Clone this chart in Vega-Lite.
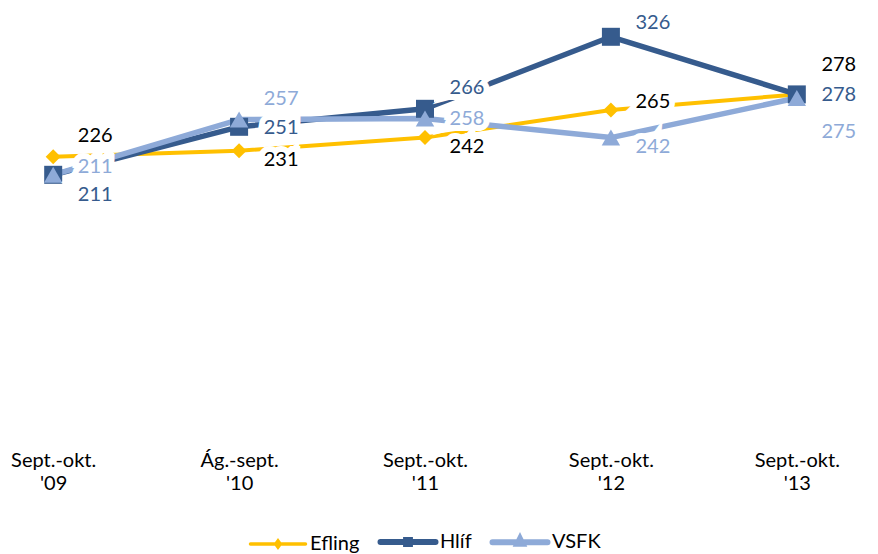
{
  "$schema": "https://vega.github.io/schema/vega-lite/v6.json",
  "width": 818,
  "height": 420,
  "autosize": {"type": "none"},
  "padding": {"left": 16, "top": 8, "right": 44, "bottom": 126},
  "background": "white",
  "config": {"view": {"stroke": null}, "font": "Lato"},
  "data": {
    "values": [
      {"series": "Efling", "period": "Sept.-okt. '09", "value": 226},
      {"series": "Efling", "period": "Ág.-sept. '10", "value": 231},
      {"series": "Efling", "period": "Sept.-okt. '11", "value": 242},
      {"series": "Efling", "period": "Sept.-okt. '12", "value": 265},
      {"series": "Efling", "period": "Sept.-okt. '13", "value": 278},
      {"series": "Hlíf", "period": "Sept.-okt. '09", "value": 211},
      {"series": "Hlíf", "period": "Ág.-sept. '10", "value": 251},
      {"series": "Hlíf", "period": "Sept.-okt. '11", "value": 266},
      {"series": "Hlíf", "period": "Sept.-okt. '12", "value": 326},
      {"series": "Hlíf", "period": "Sept.-okt. '13", "value": 278},
      {"series": "VSFK", "period": "Sept.-okt. '09", "value": 211},
      {"series": "VSFK", "period": "Ág.-sept. '10", "value": 257},
      {"series": "VSFK", "period": "Sept.-okt. '11", "value": 258},
      {"series": "VSFK", "period": "Sept.-okt. '12", "value": 242},
      {"series": "VSFK", "period": "Sept.-okt. '13", "value": 275}
    ]
  },
  "encoding": {
    "x": {
      "field": "period",
      "type": "ordinal",
      "sort": ["Sept.-okt. '09", "Ág.-sept. '10", "Sept.-okt. '11", "Sept.-okt. '12", "Sept.-okt. '13"],
      "scale": {"type": "point", "padding": 0.2},
      "axis": {
        "title": null,
        "domain": false,
        "ticks": false,
        "grid": false,
        "labelAngle": 0,
        "labelFont": "Lato",
        "labelFontSize": 20,
        "labelColor": "#000000",
        "labelPadding": 22,
        "labelLineHeight": 23,
        "labelExpr": "split(datum.label, ' ')"
      }
    },
    "y": {"field": "value", "type": "quantitative", "scale": {"domain": [0, 350]}, "axis": null},
    "color": {
      "field": "series", "type": "nominal",
      "scale": {"domain": ["Efling", "Hlíf", "VSFK"], "range": ["#FFC000", "#365B8D", "#8EAAD8"]},
      "legend": {
        "orient": "none", "legendX": 252, "legendY": 524, "direction": "horizontal", "title": null,
        "labelFont": "Lato", "labelFontSize": 20, "labelColor": "#000000",
        "symbolSize": 3025, "labelOffset": 22, "columnPadding": 8,
        "encode": {
          "symbols": {
            "update": {
              "shape": {"signal": "datum.value === 'Efling' ? 'M-1,0H1M0,-0.11L0.08,0L0,0.11L-0.08,0Z' : datum.value === 'Hlíf' ? 'M-1,0H1M-0.07,-0.07H0.07V0.07H-0.07Z' : 'M-1,0H1M0,-0.13L0.09,0.05H-0.09Z'"},
              "strokeWidth": {"signal": "datum.value === 'Efling' ? 3.5 : 6"},
              "strokeCap": {"value": "round"},
              "strokeJoin": {"value": "miter"},
              "fill": {"signal": "scale('color', datum.value)"},
              "stroke": {"signal": "scale('color', datum.value)"},
              "size": {"value": 3025},
              "opacity": {"value": 1},
              "fillOpacity": {"value": 1},
              "strokeOpacity": {"value": 1}
            }
          }
        }
      }
    }
  },
  "layer": [
    {"transform": [{"filter": "datum.series === 'Efling'"}], "mark": {"type": "line", "strokeWidth": 4, "strokeJoin": "round"}},
    {"transform": [{"filter": "datum.series === 'Hlíf'"}], "mark": {"type": "line", "strokeWidth": 5.5, "strokeJoin": "round"}},
    {"transform": [{"filter": "datum.series === 'VSFK'"}], "mark": {"type": "line", "strokeWidth": 5.5, "strokeJoin": "round"}},
    {"transform": [{"filter": "datum.series === 'Efling'"}], "mark": {"type": "point", "filled": true, "opacity": 1, "shape": "diamond", "size": 225}},
    {"transform": [{"filter": "datum.series === 'Hlíf'"}], "mark": {"type": "point", "filled": true, "opacity": 1, "shape": "square", "size": 324}},
    {"transform": [{"filter": "datum.series === 'VSFK'"}], "mark": {"type": "point", "filled": true, "opacity": 1, "shape": "triangle-up", "size": 340}},

    {"transform": [{"filter": "datum.series === 'Efling' && datum.period === \"Sept.-okt. '13\""}],
     "mark": {"type": "text", "dx": 42, "dy": -29, "fontSize": 20, "font": "Lato", "fill": "white", "stroke": "white", "strokeWidth": 12, "strokeJoin": "miter"},
     "encoding": {"text": {"field": "value"}, "color": {"value": "white"}}},
    {"transform": [{"filter": "(datum.series === 'Efling' && datum.period === \"Sept.-okt. '09\") || (datum.series === 'Hlíf' && datum.period === \"Sept.-okt. '11\") || (datum.series === 'VSFK' && datum.period === \"Ág.-sept. '10\")"}],
     "mark": {"type": "text", "dx": 42, "dy": -21, "fontSize": 20, "font": "Lato", "fill": "white", "stroke": "white", "strokeWidth": 12, "strokeJoin": "miter"},
     "encoding": {"text": {"field": "value"}, "color": {"value": "white"}}},
    {"transform": [{"filter": "datum.series === 'Hlíf' && datum.period === \"Sept.-okt. '12\""}],
     "mark": {"type": "text", "dx": 42, "dy": -14, "fontSize": 20, "font": "Lato", "fill": "white", "stroke": "white", "strokeWidth": 12, "strokeJoin": "miter"},
     "encoding": {"text": {"field": "value"}, "color": {"value": "white"}}},
    {"transform": [{"filter": "(datum.series === 'VSFK' && datum.period === \"Sept.-okt. '09\") || (datum.series === 'Efling' && datum.period === \"Sept.-okt. '12\")"}],
     "mark": {"type": "text", "dx": 42, "dy": -8, "fontSize": 20, "font": "Lato", "fill": "white", "stroke": "white", "strokeWidth": 12, "strokeJoin": "miter"},
     "encoding": {"text": {"field": "value"}, "color": {"value": "white"}}},
    {"transform": [{"filter": "(datum.series === 'Hlíf' && datum.period === \"Ág.-sept. '10\") || (datum.series === 'VSFK' && datum.period === \"Sept.-okt. '11\") || (datum.series === 'Hlíf' && datum.period === \"Sept.-okt. '13\")"}],
     "mark": {"type": "text", "dx": 42, "dy": 1, "fontSize": 20, "font": "Lato", "fill": "white", "stroke": "white", "strokeWidth": 12, "strokeJoin": "miter"},
     "encoding": {"text": {"field": "value"}, "color": {"value": "white"}}},
    {"transform": [{"filter": "(datum.series === 'Efling' && datum.period === \"Ág.-sept. '10\") || (datum.series === 'Efling' && datum.period === \"Sept.-okt. '11\") || (datum.series === 'VSFK' && datum.period === \"Sept.-okt. '12\")"}],
     "mark": {"type": "text", "dx": 42, "dy": 9, "fontSize": 20, "font": "Lato", "fill": "white", "stroke": "white", "strokeWidth": 12, "strokeJoin": "miter"},
     "encoding": {"text": {"field": "value"}, "color": {"value": "white"}}},
    {"transform": [{"filter": "datum.series === 'Hlíf' && datum.period === \"Sept.-okt. '09\""}],
     "mark": {"type": "text", "dx": 42, "dy": 20, "fontSize": 20, "font": "Lato", "fill": "white", "stroke": "white", "strokeWidth": 12, "strokeJoin": "miter"},
     "encoding": {"text": {"field": "value"}, "color": {"value": "white"}}},
    {"transform": [{"filter": "datum.series === 'VSFK' && datum.period === \"Sept.-okt. '13\""}],
     "mark": {"type": "text", "dx": 42, "dy": 34, "fontSize": 20, "font": "Lato", "fill": "white", "stroke": "white", "strokeWidth": 12, "strokeJoin": "miter"},
     "encoding": {"text": {"field": "value"}, "color": {"value": "white"}}},

    {"transform": [{"filter": "datum.series === 'Efling' && datum.period === \"Sept.-okt. '13\""}],
     "mark": {"type": "text", "dx": 42, "dy": -29, "fontSize": 20, "font": "Lato"},
     "encoding": {"text": {"field": "value"}, "color": {"value": null}, "fill": {"field": "series", "type": "nominal", "scale": {"domain": ["Efling", "Hlíf", "VSFK"], "range": ["#000000", "#365B8D", "#8EAAD8"]}, "legend": null}}},
    {"transform": [{"filter": "(datum.series === 'Efling' && datum.period === \"Sept.-okt. '09\") || (datum.series === 'Hlíf' && datum.period === \"Sept.-okt. '11\") || (datum.series === 'VSFK' && datum.period === \"Ág.-sept. '10\")"}],
     "mark": {"type": "text", "dx": 42, "dy": -21, "fontSize": 20, "font": "Lato"},
     "encoding": {"text": {"field": "value"}, "color": {"value": null}, "fill": {"field": "series", "type": "nominal", "legend": null}}},
    {"transform": [{"filter": "datum.series === 'Hlíf' && datum.period === \"Sept.-okt. '12\""}],
     "mark": {"type": "text", "dx": 42, "dy": -14, "fontSize": 20, "font": "Lato"},
     "encoding": {"text": {"field": "value"}, "color": {"value": null}, "fill": {"field": "series", "type": "nominal", "legend": null}}},
    {"transform": [{"filter": "(datum.series === 'VSFK' && datum.period === \"Sept.-okt. '09\") || (datum.series === 'Efling' && datum.period === \"Sept.-okt. '12\")"}],
     "mark": {"type": "text", "dx": 42, "dy": -8, "fontSize": 20, "font": "Lato"},
     "encoding": {"text": {"field": "value"}, "color": {"value": null}, "fill": {"field": "series", "type": "nominal", "legend": null}}},
    {"transform": [{"filter": "(datum.series === 'Hlíf' && datum.period === \"Ág.-sept. '10\") || (datum.series === 'VSFK' && datum.period === \"Sept.-okt. '11\") || (datum.series === 'Hlíf' && datum.period === \"Sept.-okt. '13\")"}],
     "mark": {"type": "text", "dx": 42, "dy": 1, "fontSize": 20, "font": "Lato"},
     "encoding": {"text": {"field": "value"}, "color": {"value": null}, "fill": {"field": "series", "type": "nominal", "legend": null}}},
    {"transform": [{"filter": "(datum.series === 'Efling' && datum.period === \"Ág.-sept. '10\") || (datum.series === 'Efling' && datum.period === \"Sept.-okt. '11\") || (datum.series === 'VSFK' && datum.period === \"Sept.-okt. '12\")"}],
     "mark": {"type": "text", "dx": 42, "dy": 9, "fontSize": 20, "font": "Lato"},
     "encoding": {"text": {"field": "value"}, "color": {"value": null}, "fill": {"field": "series", "type": "nominal", "legend": null}}},
    {"transform": [{"filter": "datum.series === 'Hlíf' && datum.period === \"Sept.-okt. '09\""}],
     "mark": {"type": "text", "dx": 42, "dy": 20, "fontSize": 20, "font": "Lato"},
     "encoding": {"text": {"field": "value"}, "color": {"value": null}, "fill": {"field": "series", "type": "nominal", "legend": null}}},
    {"transform": [{"filter": "datum.series === 'VSFK' && datum.period === \"Sept.-okt. '13\""}],
     "mark": {"type": "text", "dx": 42, "dy": 34, "fontSize": 20, "font": "Lato"},
     "encoding": {"text": {"field": "value"}, "color": {"value": null}, "fill": {"field": "series", "type": "nominal", "legend": null}}}
  ]
}
